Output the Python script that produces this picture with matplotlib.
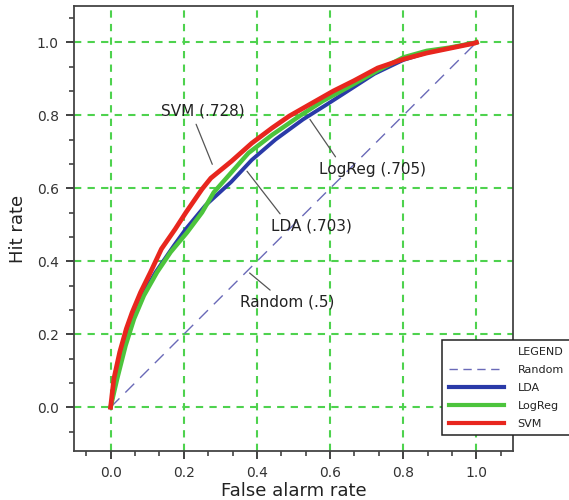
import matplotlib
matplotlib.use("Agg")
import matplotlib.pyplot as plt
from matplotlib.lines import Line2D
from matplotlib.ticker import MultipleLocator

# ROC curves: false alarm rate (x) vs hit rate (y)
svm_fa = [0.0, 0.009, 0.025, 0.043, 0.059, 0.082, 0.109, 0.139, 0.177, 0.206, 0.25, 0.274,
          0.33, 0.386, 0.442, 0.488, 0.544, 0.609, 0.665, 0.73, 0.8, 0.864, 0.927, 0.995, 1.0]
svm_hit = [0.0, 0.078, 0.151, 0.215, 0.26, 0.315, 0.37, 0.434, 0.489, 0.534, 0.598, 0.628,
           0.674, 0.724, 0.766, 0.798, 0.83, 0.867, 0.895, 0.93, 0.954, 0.971, 0.984, 0.998, 1.0]

logreg_fa = [0.0, 0.018, 0.041, 0.064, 0.091, 0.127, 0.164, 0.209, 0.25, 0.282, 0.312,
             0.377, 0.442, 0.516, 0.581, 0.647, 0.73, 0.8, 0.864, 0.927, 1.0]
logreg_hit = [0.0, 0.078, 0.169, 0.242, 0.306, 0.37, 0.425, 0.479, 0.534, 0.589, 0.623,
              0.697, 0.747, 0.798, 0.84, 0.876, 0.923, 0.959, 0.977, 0.986, 1.0]

lda_fa = [0.0, 0.015, 0.035, 0.059, 0.086, 0.123, 0.173, 0.206, 0.259, 0.33,
          0.386, 0.451, 0.526, 0.591, 0.656, 0.721, 0.8, 0.864, 0.927, 1.0]
lda_hit = [0.0, 0.078, 0.159, 0.242, 0.306, 0.37, 0.443, 0.489, 0.553, 0.618,
           0.678, 0.734, 0.789, 0.83, 0.872, 0.914, 0.952, 0.972, 0.985, 1.0]

random_fa = [0.0, 1.0]
random_hit = [0.0, 1.0]

series_names = ["Random", "LDA", "LogReg", "SVM"]
series_colors = ["#6a6ab8", "#2a3aa8", "#4cc43c", "#e8261e"]
auc_labels = ["Random (.5)", "LDA (.703)", "LogReg (.705)", "SVM (.728)"]
tick_values = [0.0, 0.2, 0.4, 0.6, 0.8, 1.0]
tick_labels = ["0.0", "0.2", "0.4", "0.6", "0.8", "1.0"]

grid_color = "#4ed24e"

fig = plt.figure(figsize=(5.69, 5.0), dpi=100)
ax = fig.add_axes([74 / 569, 49 / 500, (513 - 74) / 569, (494 - 49) / 500])

ax.plot(random_fa, random_hit, color=series_colors[0], lw=1.0, dashes=(9, 6), zorder=3)
ax.plot(lda_fa, lda_hit, color=series_colors[1], lw=2.8, zorder=4)
ax.plot(logreg_fa, logreg_hit, color=series_colors[2], lw=3.2, zorder=5)
ax.plot(svm_fa, svm_hit, color=series_colors[3], lw=3.4, zorder=6)

ax.xaxis.set_minor_locator(MultipleLocator(0.2 / 3))
ax.yaxis.set_minor_locator(MultipleLocator(0.2 / 3))
ax.set_xticks(tick_values)
ax.set_yticks(tick_values)
ax.set_xticklabels(tick_labels)
ax.set_yticklabels(tick_labels)
ax.set_xlim(-0.1, 1.1)
ax.set_ylim(-0.12, 1.1)

ax.tick_params(which="major", direction="out", length=6, width=1.3, color="#333333",
               labelsize=10, labelcolor="#333333", pad=5)
ax.tick_params(which="minor", direction="out", length=3.5, width=1.1, color="#333333")
for side in ["left", "right", "top", "bottom"]:
    ax.spines[side].set_color("#444444")
    ax.spines[side].set_linewidth(1.3)

ax.grid(True, which="major", color=grid_color, lw=1.5, dashes=(3.5, 3.0), zorder=1)

ax.set_xlabel("False alarm rate", fontsize=13, color="#222222", labelpad=1)
ax.set_ylabel("Hit rate", fontsize=13, color="#222222", labelpad=7)

# Leader-line labels with AUC values
lead = dict(arrowstyle="-", color="#555555", lw=0.9, shrinkA=2, shrinkB=0)
ax.annotate(auc_labels[3], xy=(0.278, 0.666), xytext=(0.253, 0.811),
            ha="center", va="center", fontsize=11, color="#222222",
            arrowprops=dict(lead, relpos=(0.39, 0.0)), zorder=7)
ax.annotate(auc_labels[2], xy=(0.545, 0.789), xytext=(0.715, 0.652),
            ha="center", va="center", fontsize=11, color="#222222",
            arrowprops=dict(lead, relpos=(0.19, 1.0)), zorder=7)
ax.annotate(auc_labels[1], xy=(0.373, 0.647), xytext=(0.549, 0.496),
            ha="center", va="center", fontsize=11, color="#222222",
            arrowprops=dict(lead, relpos=(0.16, 1.0)), zorder=7)
ax.annotate(auc_labels[0], xy=(0.38, 0.368), xytext=(0.482, 0.288),
            ha="center", va="center", fontsize=11, color="#222222",
            arrowprops=dict(lead, relpos=(0.38, 1.0)), zorder=7)

# Legend with a heading row
handles = [Line2D([], [], color="none"),
           Line2D([], [], color=series_colors[0], lw=1.0, dashes=(6, 4)),
           Line2D([], [], color=series_colors[1], lw=3.0),
           Line2D([], [], color=series_colors[2], lw=3.0),
           Line2D([], [], color=series_colors[3], lw=3.0)]
labels = ["LEGEND"] + series_names
leg = fig.legend(handles, labels, loc="upper left",
                 bbox_to_anchor=(442 / 569, 1 - 340 / 500), borderaxespad=0,
                 fontsize=8, handlelength=5.0, handletextpad=1.2,
                 labelspacing=0.72, borderpad=0.6, fancybox=False,
                 framealpha=1.0, edgecolor="#222222")
leg.get_frame().set_linewidth(1.1)
for t in leg.get_texts():
    t.set_color("#222222")

fig.savefig("out.png", dpi=100)
